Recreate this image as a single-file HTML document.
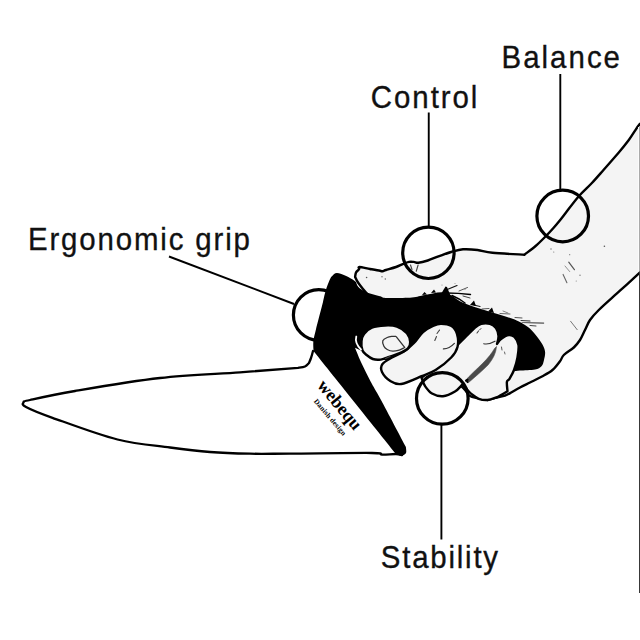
<!DOCTYPE html>
<html><head><meta charset="utf-8">
<style>
html,body{margin:0;padding:0;background:#fff;}
svg{display:block;}
.lbl{font-family:"Liberation Sans",sans-serif;font-size:32px;fill:#111;stroke:#111;stroke-width:0.35px;}
</style></head>
<body>
<svg width="640" height="640" viewBox="0 0 640 640">
<rect width="640" height="640" fill="#fff"/>
<path d="M313.0,351.0 C312.7,352.2 311.7,356.0 311.0,358.0 C310.3,360.0 309.3,362.2 309.0,363.0 L309.0,363.0 C308.3,363.6 306.8,365.7 305.0,366.5 C303.2,367.3 299.2,367.6 298.0,367.8 L298.0,367.8 C288.3,368.6 263.0,370.6 240.0,372.3 C217.0,374.0 187.5,374.9 160.0,378.0 C132.5,381.1 96.7,387.3 75.0,391.0 C53.3,394.7 38.6,398.1 30.0,400.0 C21.4,401.9 24.2,401.3 23.5,402.5 C22.8,403.7 21.2,404.4 26.0,407.0 C30.8,409.6 37.2,412.4 52.5,417.8 C67.8,423.2 97.9,434.6 117.5,439.5 C137.1,444.4 154.6,445.4 170.0,447.5 C185.4,449.6 196.7,451.0 210.0,452.0 C223.3,453.0 236.7,453.4 250.0,453.7 C263.3,454.0 269.7,453.7 290.0,453.6 C310.3,453.5 356.7,452.8 372.0,453.0 C387.3,453.2 377.9,454.4 381.9,454.6 C385.9,454.8 392.6,453.9 396.0,454.0 C399.4,454.1 401.0,454.8 402.0,455.0 L420,380 Z" fill="#fff" stroke="none"/>
<path d="M313.0,351.0 C312.7,352.2 311.7,356.0 311.0,358.0 C310.3,360.0 309.3,362.2 309.0,363.0 L309.0,363.0 C308.3,363.6 306.8,365.7 305.0,366.5 C303.2,367.3 299.2,367.6 298.0,367.8 L298.0,367.8 C288.3,368.6 263.0,370.6 240.0,372.3 C217.0,374.0 187.5,374.9 160.0,378.0 C132.5,381.1 96.7,387.3 75.0,391.0 C53.3,394.7 38.6,398.1 30.0,400.0 C21.4,401.9 24.2,401.3 23.5,402.5 C22.8,403.7 21.2,404.4 26.0,407.0 C30.8,409.6 37.2,412.4 52.5,417.8 C67.8,423.2 97.9,434.6 117.5,439.5 C137.1,444.4 154.6,445.4 170.0,447.5 C185.4,449.6 196.7,451.0 210.0,452.0 C223.3,453.0 236.7,453.4 250.0,453.7 C263.3,454.0 269.7,453.7 290.0,453.6 C310.3,453.5 356.7,452.8 372.0,453.0 C387.3,453.2 377.9,454.4 381.9,454.6 C385.9,454.8 392.6,453.9 396.0,454.0 C399.4,454.1 401.0,454.8 402.0,455.0" fill="none" stroke="#000" stroke-width="2.3" stroke-linejoin="round" stroke-linecap="round"/>
<circle cx="318.8" cy="315" r="25.4" fill="none" stroke="#000" stroke-width="3.2"/>
<line x1="169" y1="256.5" x2="294" y2="304" stroke="#000" stroke-width="1.9"/>
<path d="M355.1,277.0 C355.2,276.2 355.4,273.8 356.0,272.5 C356.6,271.2 358.4,270.3 359.0,269.4 C359.6,268.5 357.6,267.1 359.4,267.0 C361.2,266.9 366.6,268.4 370.0,269.0 C373.4,269.6 378.0,270.4 380.0,270.8 C382.0,271.2 381.0,271.4 382.0,271.3 C383.0,271.2 383.7,270.7 386.0,270.0 C388.3,269.3 393.1,268.0 396.0,267.0 C398.9,266.0 401.2,264.6 403.4,263.8 C405.6,262.9 407.3,262.2 409.0,261.9 C410.7,261.6 412.2,261.8 413.8,261.9 C415.3,262.0 416.1,263.0 418.4,262.8 C420.7,262.6 424.2,261.7 427.8,260.5 C431.4,259.3 436.1,257.2 440.0,255.8 C443.9,254.4 447.4,253.1 451.2,252.0 C455.0,250.9 458.6,249.6 463.0,249.3 C467.4,249.0 472.6,249.4 477.5,250.0 C482.4,250.6 484.7,252.0 492.5,252.8 C500.3,253.6 519.1,254.4 524.4,254.7 L524.4,254.7 C526.3,253.2 532.2,248.9 535.6,246.0 C539.0,243.1 542.1,239.9 545.0,237.0 C547.9,234.1 550.5,231.3 553.0,228.5 C555.5,225.7 557.8,222.9 560.0,220.2 C562.2,217.5 562.9,216.5 566.0,212.5 C569.1,208.5 574.4,201.2 578.8,196.2 C583.1,191.3 587.8,187.4 591.9,183.0 C596.0,178.6 599.0,175.1 603.5,170.0 C608.0,164.9 614.5,157.5 618.8,152.5 C623.0,147.5 625.8,144.0 628.8,140.0 C631.7,136.0 634.4,131.5 636.2,128.8 C638.1,126.0 639.4,124.6 640.0,123.8 L640.0,123.8 C643.3,123.8 656.7,99.0 660.0,123.8 C663.3,148.5 663.3,247.7 660.0,272.5 C656.7,297.3 643.3,272.5 640.0,272.5 L640.0,272.5 C636.6,275.6 626.3,285.0 619.4,291.2 C612.5,297.5 603.6,305.2 598.8,310.0 C593.9,314.8 592.3,316.7 590.0,320.0 C587.7,323.3 586.7,326.7 585.0,330.0 C583.3,333.3 581.9,337.1 580.0,340.0 C578.1,342.9 576.5,345.0 573.8,347.5 C571.0,350.0 566.0,352.7 563.8,355.0 C561.5,357.3 561.9,358.8 560.0,361.2 C558.1,363.8 555.4,367.5 552.5,370.0 C549.6,372.5 546.2,374.2 542.5,376.2 C538.8,378.3 533.8,380.6 530.0,382.5 C526.2,384.4 523.1,385.8 520.0,387.5 C516.9,389.2 513.8,391.1 511.2,392.5 C508.8,393.9 507.5,394.8 505.0,395.6 C502.5,396.4 499.2,396.8 496.2,397.5 C493.3,398.2 489.0,399.6 487.5,400.0 L487.5,400.0 C484.6,399.3 474.6,398.5 470.0,396.0 C465.4,393.5 471.7,396.0 460.0,385.0 C448.3,374.0 416.2,346.0 400.0,330.0 C383.8,314.0 370.5,297.8 363.0,289.0 C355.5,280.2 356.4,279.0 355.1,277.0 Z" fill="#f4f4f4" stroke="#000" stroke-width="2.4" stroke-linejoin="round"/>
<path d="M323.0,302.0 C323.4,300.2 324.5,294.6 325.6,291.0 C326.7,287.4 328.3,283.1 329.4,280.6 C330.5,278.1 330.9,277.2 332.2,276.0 C333.4,274.8 334.6,273.1 336.9,273.1 C339.2,273.1 343.4,274.8 346.2,276.0 C349.0,277.2 352.1,279.2 353.7,280.2 C355.3,281.2 355.6,281.7 356.0,282.0 L356.0,282.0 C356.4,282.8 356.6,285.2 358.4,287.0 C360.2,288.8 363.3,291.0 366.9,292.5 C370.5,294.0 376.6,295.3 380.0,296.2 C383.4,297.1 381.7,297.8 387.0,298.0 C392.3,298.2 405.6,298.0 411.9,297.5 C418.2,297.0 419.5,295.8 425.0,295.0 C430.5,294.2 438.8,291.2 445.0,292.5 C451.2,293.8 455.4,299.4 462.5,302.5 C469.6,305.6 479.2,308.3 487.5,311.0 C495.8,313.7 506.2,316.4 512.5,318.8 C518.8,321.1 521.7,322.9 525.0,325.0 C528.3,327.1 529.8,328.3 532.5,331.2 C535.2,334.2 539.2,339.2 541.2,342.5 C543.3,345.8 544.5,348.3 545.0,351.2 C545.5,354.2 544.6,357.5 544.0,360.0 C543.4,362.5 543.0,364.7 541.5,366.2 C540.0,367.8 538.6,368.7 535.0,369.4 C531.4,370.1 523.5,370.3 520.0,370.6 C516.5,370.9 514.8,371.1 513.8,371.2 L513.8,371.2 C506.5,371.9 482.3,374.9 470.0,375.0 C457.7,375.1 454.2,374.5 440.0,372.0 C425.8,369.5 399.2,364.1 385.0,360.0 C370.8,355.9 360.0,349.8 355.0,347.7 L355.0,347.7 C356.1,350.4 359.3,358.4 361.9,364.0 C364.5,369.6 367.4,375.5 370.6,381.5 C373.8,387.5 375.1,389.1 381.0,400.0 C386.9,410.9 401.8,439.2 405.9,447.0 L405.9,447.0 C405.9,448.0 406.7,451.6 406.0,453.0 C405.3,454.4 403.2,455.5 401.5,455.7 C399.8,455.9 396.9,454.3 396.0,454.0 L396.0,454.0 C382.2,436.8 327.2,368.2 313.5,351.0 L313.5,351.0 C313.5,349.3 313.0,344.5 313.4,341.0 C313.8,337.5 314.2,336.5 315.8,330.0 C317.4,323.5 321.8,306.7 323.0,302.0 Z" fill="#000"/>
<path d="M421.5,377.8 C423.8,375.8 430.2,370.2 435.0,366.0 C439.8,361.8 446.2,356.0 450.0,352.5 C453.8,349.0 454.8,347.7 457.5,345.0 C460.2,342.3 463.3,339.2 466.2,336.2 C469.2,333.3 472.5,329.6 475.0,327.5 C477.5,325.4 478.8,324.4 481.2,323.8 C483.8,323.1 487.5,323.1 490.0,323.8 C492.5,324.5 494.6,326.0 496.0,328.0 C497.4,330.0 498.3,333.3 498.5,336.0 C498.7,338.7 497.2,342.7 497.0,344.0 L497.0,344.0 C497.7,343.2 499.0,340.5 501.0,339.0 C503.0,337.5 506.5,335.3 508.8,335.0 C511.0,334.7 512.9,335.3 514.5,337.0 C516.1,338.7 518.0,341.6 518.5,345.0 C519.0,348.4 518.2,353.3 517.5,357.5 C516.8,361.7 515.3,366.5 514.0,370.0 C512.7,373.5 510.7,376.8 509.5,378.8 C508.3,380.8 507.2,379.9 506.9,382.0 C506.6,384.1 507.4,389.7 507.5,391.2 L507.5,391.2 C506.2,392.0 501.9,394.6 500.0,395.6 C498.1,396.6 498.3,396.8 496.2,397.5 C494.2,398.2 490.4,399.8 487.5,400.0 C484.6,400.2 481.5,399.8 478.8,398.8 C476.0,397.7 473.1,395.2 471.2,393.8 C469.4,392.3 469.0,391.5 467.5,390.0 C466.0,388.5 463.3,385.8 462.5,385.0 L462.0,385.0 C460.8,386.1 458.2,389.6 455.0,391.5 C451.8,393.4 446.8,395.9 443.0,396.2 C439.2,396.5 435.0,395.2 432.0,393.5 C429.0,391.8 426.8,388.6 425.0,386.0 C423.2,383.4 422.1,379.2 421.5,377.8 Z" fill="#f4f4f4" stroke="#000" stroke-width="2.4" stroke-linejoin="round"/>
<path d="M465,381 C470,375 477,369 483,363 C488,358 492,353 494.5,348.5 L496.5,346.5 C496,353 493,359 488,365 C482,371 475,377 468,383 Z" fill="#4a4a4a" stroke="#4a4a4a" stroke-width="0.6"/>
<path d="M465,380.5 L468,379 L467.5,383" fill="#000" stroke="#000" stroke-width="1"/>
<path d="M382.5,364.0 C384.2,361.6 388.4,359.6 392.0,357.5 C395.6,355.4 400.3,353.9 404.0,351.5 C407.7,349.1 410.8,346.2 414.0,343.0 C417.2,339.8 419.8,334.8 423.0,332.0 C426.2,329.2 430.0,327.4 433.0,326.0 C436.0,324.6 437.9,323.8 441.0,323.8 C444.1,323.8 448.8,324.3 451.5,326.0 C454.2,327.7 456.0,330.5 457.0,334.0 C458.0,337.5 458.5,343.1 457.5,347.0 C456.5,350.9 454.9,353.7 451.2,357.5 C447.6,361.3 440.6,366.9 435.6,370.0 C430.6,373.1 427.2,373.9 421.5,376.2 C415.8,378.6 406.4,383.2 401.2,384.0 C396.1,384.8 393.5,383.0 390.3,381.0 C387.1,379.0 383.3,374.8 382.0,372.0 C380.7,369.2 380.8,366.4 382.5,364.0 Z" fill="#f4f4f4" stroke="#000" stroke-width="2.4"/>
<path d="M361.5,341.0 C361.8,338.2 362.3,336.2 364.0,334.0 C365.7,331.8 368.4,329.1 371.9,327.7 C375.4,326.3 380.8,325.7 385.0,325.5 C389.2,325.3 393.4,325.3 397.0,326.6 C400.6,327.9 404.7,330.6 406.9,333.1 C409.1,335.7 410.0,339.3 410.2,341.9 C410.4,344.4 409.6,346.6 408.0,348.4 C406.4,350.2 403.6,351.3 400.3,352.8 C397.0,354.3 391.6,356.1 388.3,357.2 C385.0,358.3 383.2,359.3 380.6,359.6 C378.0,359.9 375.1,359.8 372.8,359.0 C370.5,358.2 368.3,356.4 366.6,355.0 C364.9,353.6 363.4,352.8 362.5,350.5 C361.6,348.2 361.2,343.8 361.5,341.0 Z" fill="#f4f4f4" stroke="#000" stroke-width="2.4"/>
<path d="M356.3,336.5 C355.3,340 356.5,345 361,349.5" fill="none" stroke="#fff" stroke-width="1.8" stroke-linecap="round"/>
<path d="M396.0,336.4 C397.4,338.2 403.2,345.6 404.7,347.4 L404.7,347.4 C403.8,347.8 401.2,349.5 399.2,350.1 C397.2,350.7 394.7,351.3 392.7,351.2 C390.7,351.1 388.7,350.3 387.2,349.5 C385.7,348.7 384.6,347.8 383.9,346.3 C383.2,344.9 382.2,342.3 382.8,340.8 C383.4,339.3 385.7,338.2 387.2,337.5 C388.7,336.8 390.1,336.6 391.6,336.4 C393.1,336.2 395.3,336.4 396.0,336.4" fill="none" stroke="#333" stroke-width="1.3" stroke-linejoin="round"/>
<g fill="none" stroke-linecap="round">
<path d="M446,290 L457,285.5" stroke="#111" stroke-width="1.2"/>
<path d="M447,293 C455,293 462,293.5 470.5,294.5" stroke="#000" stroke-width="1.4"/>
<path d="M452,295.5 L459,299 L465,303" stroke="#000" stroke-width="1.5"/>
<path d="M459,291 L467.5,287.5" stroke="#555" stroke-width="1.0"/>
<path d="M463,296 L470,298" stroke="#444" stroke-width="1.0"/>
<path d="M474,305 L480,306.5" stroke="#222" stroke-width="1.2"/>
<path d="M482,309 L489,308.5" stroke="#555" stroke-width="1.0"/>
<path d="M500,313.5 L510,314" stroke="#666" stroke-width="1.0"/>
<path d="M503,311 L508,313" stroke="#777" stroke-width="0.9"/>
<path d="M515,317.5 L522,318" stroke="#555" stroke-width="1.0"/>
<path d="M522,322.5 L543.6,323.2" stroke="#777" stroke-width="1.0"/>
<path d="M521,320.5 L530,321" stroke="#333" stroke-width="1.1"/>
<path d="M530,325.5 L536,326" stroke="#444" stroke-width="1.0"/>
<path d="M410.5,265 L412,269.5" stroke="#444" stroke-width="1.1"/>
<path d="M418.1,265 L416.25,271.25" stroke="#444" stroke-width="1.1"/>
<path d="M434.8,340.5 L436.5,336.5" stroke="#444" stroke-width="1.1"/>
<path d="M437,333.5 L439.5,330" stroke="#444" stroke-width="1.1"/>
<path d="M443.4,348.9 C447,349 451,347 454.4,343.4" stroke="#333" stroke-width="1.2"/>
<path d="M477,333 L478.5,331" stroke="#444" stroke-width="1.1"/>
<path d="M479.5,330 L481,328.5" stroke="#444" stroke-width="1.0"/>
<path d="M483.75,343.75 C487,344.5 491,343.5 495,341.25" stroke="#333" stroke-width="1.2"/>
<path d="M501.5,347 L502,350" stroke="#555" stroke-width="1.0"/>
<path d="M504.5,352 L505,354" stroke="#666" stroke-width="1.0"/>
<path d="M568.75,262.2 L574.4,269.7" stroke="#555" stroke-width="1.2"/>
<path d="M565,266 L569.7,271.6" stroke="#888" stroke-width="0.9"/>
<path d="M563.1,274.4 L566.9,282.8" stroke="#666" stroke-width="1.1"/>
<path d="M570.6,321.25 L577.2,329.7" stroke="#777" stroke-width="1.0"/>
<path d="M523.75,322.5 L543.75,323.1" stroke="#666" stroke-width="1.0"/>
<path d="M385.5,358.5 L390,356.5" stroke="#444" stroke-width="1.1"/>
</g>
<path d="M441,294 L445.5,286.5 L447,287 L451,297 Z" fill="#000"/>
<path d="M431,293 L434,289.5 L436,292.5 Z M422,295 L424.5,292 L427,294.5 Z M470,305 L474,300.5 L476,306 Z M488,311.5 L492,307.5 L494,313 Z" fill="#000"/>
<circle cx="551" cy="249" r="0.7" fill="#666"/>
<circle cx="553.75" cy="252" r="0.6" fill="#777"/>
<circle cx="569.7" cy="254.7" r="0.6" fill="#777"/>
<circle cx="604.4" cy="246.25" r="0.8" fill="#555"/>
<circle cx="580" cy="275.3" r="0.7" fill="#777"/>
<circle cx="576.25" cy="281" r="0.6" fill="#888"/>
<circle cx="366.6" cy="277.5" r="0.8" fill="#555"/>
<circle cx="382" cy="276.7" r="0.7" fill="#666"/>
<circle cx="385.3" cy="279" r="0.7" fill="#666"/>
<circle cx="465" cy="289.5" r="0.6" fill="#888"/>
<circle cx="442" cy="285" r="0.6" fill="#888"/>
<circle cx="455" cy="283.5" r="0.6" fill="#999"/>
<rect x="638" y="127" width="1" height="143" fill="#fbfbfb"/>
<rect x="639" y="126" width="1" height="145" fill="#aaa"/>
<rect x="639" y="272" width="1" height="321" fill="#383838"/>
<line x1="428.75" y1="112.5" x2="428.75" y2="227" stroke="#000" stroke-width="1.9"/>
<circle cx="428.4" cy="252.8" r="25.7" fill="none" stroke="#000" stroke-width="3.2"/>
<line x1="560.3" y1="74" x2="560.3" y2="190" stroke="#000" stroke-width="1.9"/>
<circle cx="562.7" cy="216" r="25.8" fill="none" stroke="#000" stroke-width="3.2"/>
<line x1="441.4" y1="425" x2="441.4" y2="539.5" stroke="#000" stroke-width="1.9"/>
<circle cx="442.3" cy="398.4" r="25.8" fill="none" stroke="#000" stroke-width="3.2"/>
<text class="lbl" transform="translate(501.5,67.5) scale(0.92,1)" textLength="128.8" lengthAdjust="spacing">Balance</text>
<text class="lbl" transform="translate(370.8,107.5) scale(0.92,1)" textLength="115.9" lengthAdjust="spacing">Control</text>
<text class="lbl" transform="translate(28,250.3) scale(0.92,1)" textLength="241.2" lengthAdjust="spacing">Ergonomic grip</text>
<text class="lbl" transform="translate(380.8,568.4) scale(0.92,1)" textLength="127.5" lengthAdjust="spacing">Stability</text>
<text transform="translate(316.5,385.8) rotate(50.5)" style="font-family:'Liberation Serif',serif;font-weight:bold;font-size:18px" fill="#000">webequ</text>
<text transform="translate(313.5,401.5) rotate(49.5)" style="font-family:'Liberation Serif',serif;font-weight:bold;font-size:7.3px;letter-spacing:0.15px" fill="#000">Danish design</text>
</svg>
</body></html>
